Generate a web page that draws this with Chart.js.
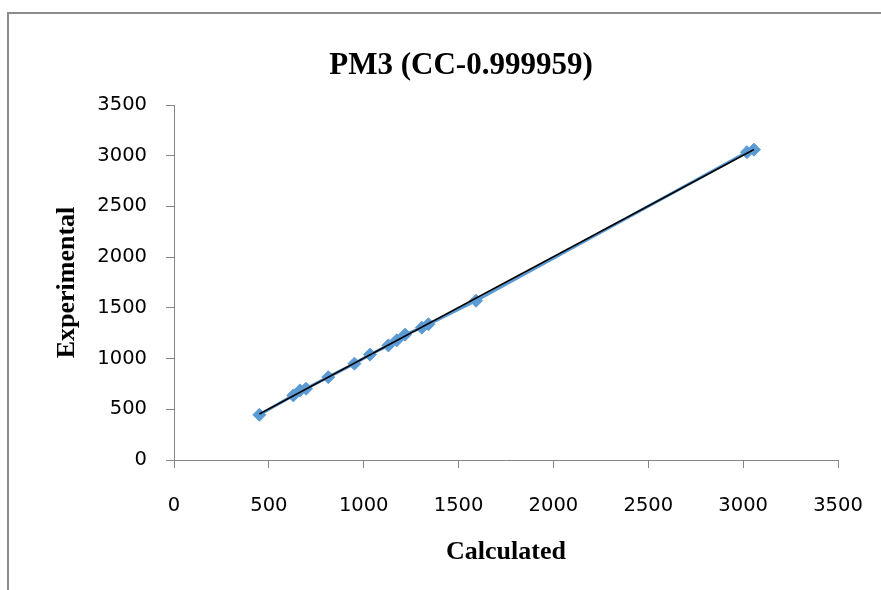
<!DOCTYPE html>
<html>
<head>
<meta charset="utf-8">
<title>PM3 (CC-0.999959)</title>
<script src="https://cdn.jsdelivr.net/npm/chart.js@4/dist/chart.umd.min.js"></script>
<style>
  html, body { margin: 0; padding: 0; background: #fff; overflow: hidden; }
  #frame {
    position: absolute; left: 7px; top: 12px; width: 900px; height: 600px;
    border-top: 2px solid #8c8c8c; border-left: 2px solid #8c8c8c;
    pointer-events: none;
  }
  canvas { position: absolute; left: 0; top: 0; }
</style>
</head>
<body>
<div id="frame"></div>
<canvas id="pm3Chart" width="881" height="590"></canvas>
<script>
const chartTitle = 'PM3 (CC-0.999959)';
const xTitle = 'Calculated';
const yTitle = 'Experimental';
const axisTicks = [0, 500, 1000, 1500, 2000, 2500, 3000, 3500];

// calculated vs experimental frequencies
const calculated = [450, 629, 664, 696, 813, 951, 1033, 1130, 1174, 1218, 1306, 1341, 1592, 3020, 3057];
const experimental = [446, 637, 686, 703, 817, 950, 1039, 1130, 1180, 1236, 1305, 1338, 1570, 3035, 3060];

const points = calculated.map((x, i) => ({ x, y: experimental[i] }));

// least squares trendline across the data range
function linearFit(xs, ys) {
  const n = xs.length;
  const mx = xs.reduce((a, b) => a + b, 0) / n;
  const my = ys.reduce((a, b) => a + b, 0) / n;
  let sxy = 0, sxx = 0;
  for (let i = 0; i < n; i++) {
    sxy += (xs[i] - mx) * (ys[i] - my);
    sxx += (xs[i] - mx) ** 2;
  }
  const slope = sxy / sxx;
  return { slope, intercept: my - slope * mx };
}

const fit = linearFit(calculated, experimental);
const xMin = Math.min(...calculated);
const xMax = Math.max(...calculated);
const trend = [
  { x: xMin, y: fit.intercept + fit.slope * xMin },
  { x: xMax, y: fit.intercept + fit.slope * xMax }
];

const axisGray = '#868686';
const tickFont = { family: 'DejaVu Sans', size: 19.5 };
const labelFont = { family: 'Liberation Serif', size: 26, weight: 'bold' };

// heading is centred a little right of the canvas middle
const heading = {
  id: 'heading',
  afterDraw(chart) {
    const ctx = chart.ctx;
    ctx.save();
    ctx.font = 'bold 31px "Liberation Serif"';
    ctx.fillStyle = '#000';
    ctx.textAlign = 'center';
    ctx.textBaseline = 'middle';
    ctx.fillText(chartTitle, 461, 66);
    ctx.restore();
  }
};

const axis = (title) => ({
  type: 'linear',
  min: 0,
  max: 3500,
  afterBuildTicks: scale => { scale.ticks = axisTicks.map(v => ({ value: v })); },
  grid: {
    drawOnChartArea: false,
    drawTicks: true,
    tickLength: 8,
    color: axisGray,
    lineWidth: 1
  },
  border: { color: axisGray, width: 1 },
  ticks: { color: '#000', font: tickFont, callback: v => String(v) },
  title: { display: true, text: title, color: '#000', font: labelFont }
});

const xAxis = axis(xTitle);
xAxis.ticks.padding = 26;
xAxis.title.padding = { top: 0, bottom: 22 };
xAxis.afterFit = scale => {
  scale.height = 130;
  // keep the plot edges fixed; end labels sit in the margins
  scale.paddingLeft = 0;
  scale.paddingRight = 0;
};

const yAxis = axis(yTitle);
yAxis.ticks.padding = 19;
yAxis.title.padding = { top: 52, bottom: 0 };
yAxis.afterFit = scale => { scale.width = 174; };

new Chart(document.getElementById('pm3Chart'), {
  type: 'scatter',
  data: {
    datasets: [
      {
        label: 'Trendline',
        data: trend,
        showLine: true,
        borderColor: '#000',
        borderWidth: 1.5,
        pointRadius: 0,
        fill: false
      },
      {
        label: 'PM3',
        data: points,
        showLine: true,
        borderColor: '#5b9bd5',
        backgroundColor: '#5b9bd5',
        borderWidth: 3,
        pointStyle: 'rectRot',
        pointRadius: 6.5,
        pointBorderWidth: 1,
        pointBorderColor: '#5b9bd5',
        pointBackgroundColor: '#5b9bd5'
      }
    ]
  },
  options: {
    responsive: false,
    animation: false,
    devicePixelRatio: 1,
    layout: { padding: { top: 105, right: 43, bottom: 0, left: 0 } },
    scales: { x: xAxis, y: yAxis },
    plugins: {
      legend: { display: false },
      tooltip: { enabled: false },
      title: { display: false }
    }
  },
  plugins: [heading]
});
</script>
</body>
</html>
